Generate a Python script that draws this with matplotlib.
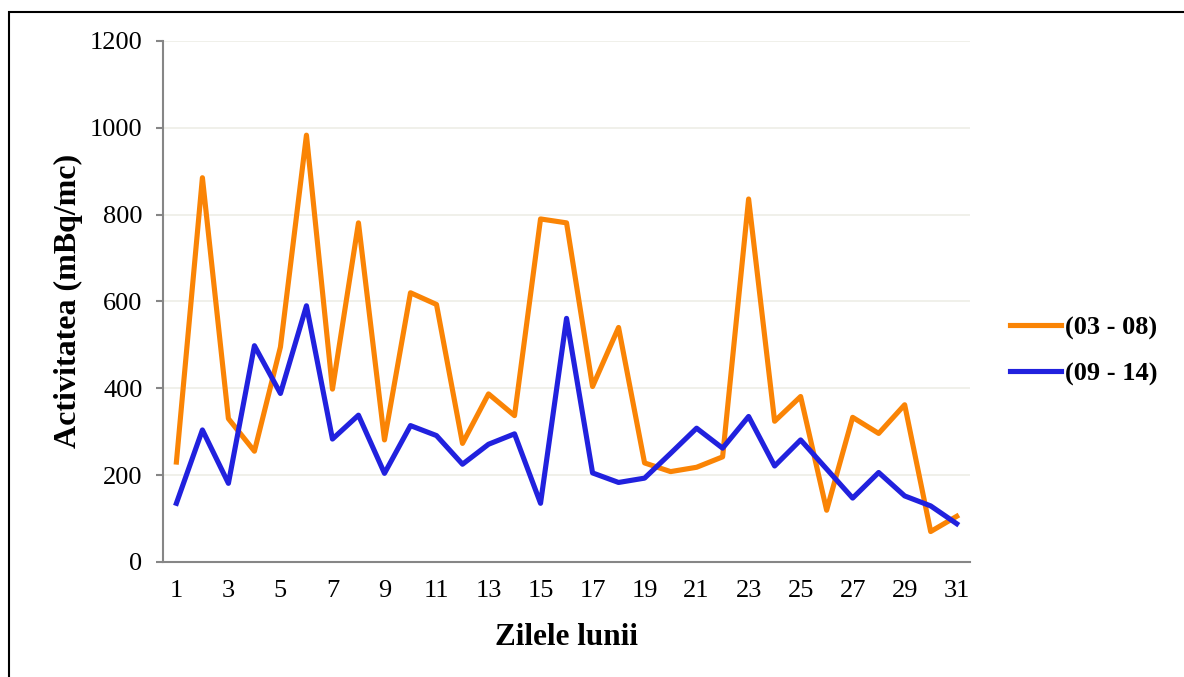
import matplotlib.pyplot as plt
from matplotlib.patches import Rectangle

# zilele lunii si activitatea pe cele doua intervale
zile = list(range(1, 32))
interval_03_08 = [230, 885, 330, 255, 495, 983, 398, 781, 281, 620,
                  593, 273, 387, 337, 790, 781, 404, 540, 228, 208,
                  218, 242, 836, 324, 381, 119, 333, 296, 362, 70, 105]
interval_09_14 = [135, 304, 181, 498, 388, 590, 283, 338, 204, 314,
                  291, 225, 271, 295, 135, 561, 205, 183, 193, 250,
                  308, 262, 335, 221, 281, 214, 147, 206, 152, 129, 88]
etichete = ["(03 - 08)", "(09 - 14)"]
y_ticks = [0, 200, 400, 600, 800, 1000, 1200]

plt.rcParams['font.family'] = ['Liberation Serif', 'DejaVu Serif']

fig = plt.figure(figsize=(11.84, 6.77), dpi=100)
ax = fig.add_axes([0.138, 0.170, 0.681, 0.7695])

# chenarul exterior
fig.patches.append(Rectangle((9 / 1184, -0.1), 1.2, 1 - 12 / 677 + 0.1,
                             transform=fig.transFigure, fill=False,
                             edgecolor='black', linewidth=1.5))

ax.plot(zile, interval_03_08, color='#FA8405', linewidth=3.7,
        label=etichete[0], solid_joinstyle='round')
ax.plot(zile, interval_09_14, color='#2121DE', linewidth=3.7,
        label=etichete[1], solid_joinstyle='round')

ax.set_xlim(0.5, 31.5)
ax.set_ylim(0, 1200)
ax.set_yticks(y_ticks)
ax.set_xticks(zile[::2])
ax.grid(axis='y', color='#EDEDE6', linewidth=1.2)
ax.set_axisbelow(True)

for s in ['top', 'right']:
    ax.spines[s].set_visible(False)
for s in ['left', 'bottom']:
    ax.spines[s].set_color('#868686')
    ax.spines[s].set_linewidth(1.5)

ax.tick_params(axis='y', length=5, width=1.5, color='#868686', pad=10,
               labelsize=19)
ax.tick_params(axis='x', length=0, pad=13, labelsize=19)

ax.set_xlabel("Zilele lunii", fontsize=22.5, fontweight='bold', labelpad=15)
ax.set_ylabel("Activitatea (mBq/mc)", fontsize=23, fontweight='bold',
              labelpad=5)

fig.legend(loc='center left', bbox_to_anchor=(986 / 1184, 1 - 351 / 677),
           frameon=False, prop={'weight': 'bold', 'size': 19},
           handlelength=1.95, handletextpad=0.15, labelspacing=0.83)

plt.savefig("out.png")
